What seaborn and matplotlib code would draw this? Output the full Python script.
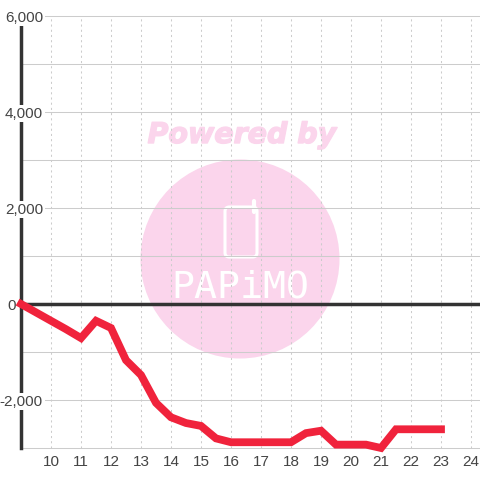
import matplotlib
matplotlib.use("Agg")
import matplotlib.pyplot as plt
import matplotlib.patches as mp
import matplotlib.patheffects as pe
import pandas as pd
import seaborn as sns

hours = [9, 9.5, 10, 10.5, 11, 11.5, 12, 12.5, 13, 13.5, 14, 14.5, 15, 15.5, 16,
         16.5, 17, 17.5, 18, 18.5, 19, 19.5, 20, 20.5, 21, 21.5, 22, 22.5, 23]
values = [0, -175, -350, -525, -710, -350, -500, -1170, -1480, -2060, -2360, -2480, -2540, -2800, -2880,
          -2880, -2880, -2880, -2880, -2690, -2640, -2930, -2930, -2930, -3000, -2610, -2610, -2610, -2610]
x_ticks = list(range(10, 25))
y_ticks = [-3000, -2000, -1000, 0, 1000, 2000, 3000, 4000, 5000, 6000]
y_labels = {-2000: "-2,000", 0: "0", 2000: "2,000", 4000: "4,000", 6000: "6,000"}

GRID = "#cccccc"
DARK = "#333333"
RED = "#f0233c"
PINK = "#fbd5ec"
TEXT = "#444444"

sns.set_theme(style="white")
plt.rcParams["font.family"] = ["Liberation Sans", "DejaVu Sans"]

fig = plt.figure(figsize=(4.8, 4.8), dpi=100)
ax = fig.add_axes([21 / 480, 32 / 480, 459 / 480, 432 / 480])
ax.set_xlim(9, 24.3)
ax.set_ylim(-3000, 6000)
ax.patch.set_alpha(0)

# watermark, placed in figure pixels
def P(x, y):
    return x / 480, 1 - y / 480
fig.patches.append(mp.Ellipse(P(240, 259), 199 / 480, 199 / 480, transform=fig.transFigure, fc=PINK, ec="none", zorder=-5))
fig.patches.append(mp.FancyBboxPatch(P(225, 257), 32 / 480, 50 / 480, boxstyle="round,pad=0,rounding_size=0.009",
                                     transform=fig.transFigure, fc="none", ec="white", lw=2.2, zorder=-4))
fig.add_artist(plt.Line2D([P(254, 0)[0]] * 2, [P(0, 212)[1], P(0, 201)[1]], color="white", lw=3, solid_capstyle="round", zorder=-4))
fig.text(*P(242, 135), "Powered by", color=PINK, fontsize=20.5, fontweight="bold", fontstyle="italic",
         family=["DejaVu Sans"], ha="center", va="center", zorder=-4,
         path_effects=[pe.withStroke(linewidth=1.0, foreground=PINK)])
fig.text(*P(240, 288), "PAPiMO", color="white", fontsize=27.5, family=["DejaVu Sans Mono"],
         ha="center", va="center", zorder=-4)

df = pd.DataFrame({"hour": hours, "value": values})
sns.lineplot(data=df, x="hour", y="value", ax=ax, color=RED, linewidth=5.6, errorbar=None,
             clip_on=False, zorder=5, solid_joinstyle="miter", solid_capstyle="projecting")

ax.set_xlabel("")
ax.set_ylabel("")
ax.set_xticks(x_ticks)
ax.set_yticks(y_ticks)
ax.set_yticklabels([y_labels.get(v, "") for v in y_ticks])
ax.tick_params(axis="x", length=0, pad=5.2, labelsize=11, labelcolor=TEXT)
ax.tick_params(axis="y", length=0, pad=-15.8, labelsize=11, labelcolor=TEXT)
ax.grid(False)
for v in x_ticks:
    ax.axvline(v, color=GRID, lw=0.75, ls=(0, (2, 3)), zorder=1)
for v in y_ticks:
    ax.axhline(v, color=GRID, lw=0.75, zorder=1, clip_on=False)
ax.axhline(0, color=DARK, lw=2.5, zorder=3)

for s in ("top", "right", "bottom"):
    ax.spines[s].set_visible(False)
ax.spines["left"].set_color(DARK)
ax.spines["left"].set_linewidth(2.5)
ax.spines["left"].set_zorder(2)
ax.yaxis.set_zorder(4)

for tick, v in zip(ax.yaxis.get_major_ticks(), y_ticks):
    if v == 0:
        tick.set_pad(3.6)
    if v in y_labels and v != 0:
        tick.label1.set_bbox(dict(fc="white", ec="none", pad=1.2))
    tick.label1.set_clip_on(False)

fig.savefig("out.png", dpi=100)
